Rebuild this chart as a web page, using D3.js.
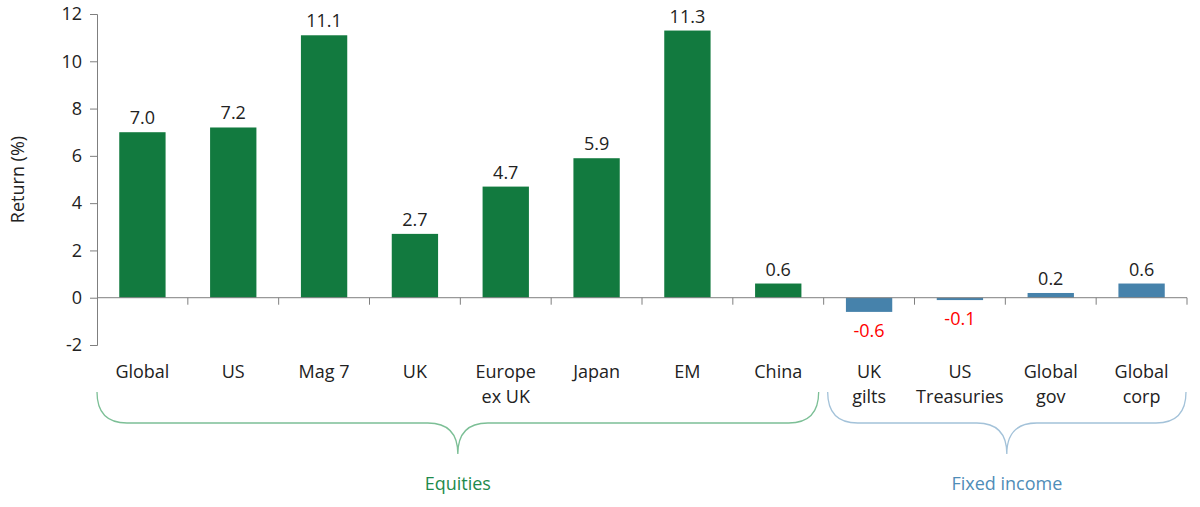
<!DOCTYPE html>
<html>
<head>
<meta charset="utf-8">
<script src="https://cdn.jsdelivr.net/npm/d3@7"></script>
<style>
  body { margin: 0; background: #fff; }
  text { font-family: "Open Sans", sans-serif; }
</style>
</head>
<body>
<div id="chart"></div>
<script>
'use strict'

// the data
const categories = ['Global', 'US', 'Mag 7', 'UK', 'Europe ex UK', 'Japan', 'EM', 'China',
  'UK gilts', 'US Treasuries', 'Global gov', 'Global corp']
const labelLines = [['Global'], ['US'], ['Mag 7'], ['UK'], ['Europe', 'ex UK'], ['Japan'], ['EM'], ['China'],
  ['UK', 'gilts'], ['US', 'Treasuries'], ['Global', 'gov'], ['Global', 'corp']]
const returns = [7.0, 7.2, 11.1, 2.7, 4.7, 5.9, 11.3, 0.6, -0.6, -0.1, 0.2, 0.6]
const groupOf = ['eq', 'eq', 'eq', 'eq', 'eq', 'eq', 'eq', 'eq', 'fi', 'fi', 'fi', 'fi']
const groups = [
  { key: 'eq', name: 'Equities', first: 'Global', last: 'China' },
  { key: 'fi', name: 'Fixed income', first: 'UK gilts', last: 'Global corp' }
]
const yTicks = [-2, 0, 2, 4, 6, 8, 10, 12]

const W = 1200, H = 507
const margin = { top: 14, right: 13, bottom: 162, left: 97 }
const width = W - margin.left - margin.right
const height = H - margin.top - margin.bottom
const fs = 18

const barColor = { eq: '#127a3f', fi: '#4682ab' }
const braceColor = { eq: '#7cbf96', fi: '#a3c2d9' }
const groupText = { eq: '#1e8a4c', fi: '#4f8db8' }

// hyphen rather than unicode minus, like the original
const hyph = s => s.replace('\u2212', '-')

const x = d3.scaleBand().domain(categories).range([0, width]).paddingInner(0.49).paddingOuter(0.245)
const y = d3.scaleLinear().domain([-2, 12]).range([height, 0])

const svg = d3.select('#chart').append('svg')
  .attr('width', W).attr('height', H)
const g = svg.append('g')
  .attr('transform', 'translate(' + margin.left + ',' + margin.top + ')')

// y axis
const yAxis = g.append('g')
  .call(d3.axisLeft(y).tickValues(yTicks).tickSize(7).tickPadding(8).tickFormat(d => hyph(d3.format('d')(d))))
yAxis.selectAll('path, line').attr('stroke', '#7f7f7f')
yAxis.selectAll('text').attr('font-size', fs).attr('fill', '#222').attr('font-family', 'Open Sans')

svg.append('text')
  .attr('transform', 'translate(24,' + (margin.top + y(5)) + ') rotate(-90)')
  .attr('text-anchor', 'middle')
  .attr('font-size', fs).attr('fill', '#222')
  .text('Return (%)')

// bars
g.selectAll('rect.bar').data(categories).enter().append('rect')
  .attr('x', d => x(d))
  .attr('width', x.bandwidth())
  .attr('y', (d, i) => y(Math.max(0, returns[i])))
  .attr('height', (d, i) => Math.abs(y(returns[i]) - y(0)))
  .attr('fill', (d, i) => barColor[groupOf[i]])

// value labels
g.selectAll('text.val').data(categories).enter().append('text')
  .attr('x', d => x(d) + x.bandwidth() / 2)
  .attr('y', (d, i) => returns[i] >= 0 ? y(returns[i]) - 8 : y(returns[i]) + 25)
  .attr('text-anchor', 'middle')
  .attr('font-size', fs)
  .attr('fill', (d, i) => returns[i] < 0 ? '#ff0000' : '#222')
  .text((d, i) => hyph(d3.format('.1f')(returns[i])))

// x axis at zero, ticks between categories
const step = x.step()
const x0 = g.append('g').attr('transform', 'translate(0,' + y(0) + ')')
x0.append('line').attr('x1', 0).attr('x2', width).attr('stroke', '#7f7f7f')
x0.selectAll('line.tick').data(d3.range(1, categories.length + 1)).enter().append('line')
  .attr('x1', i => i * step).attr('x2', i => i * step)
  .attr('y1', 0).attr('y2', 7).attr('stroke', '#7f7f7f')

// category labels
const labY = y(-2) + 33
labelLines.forEach((lines, i) => {
  const t = g.append('text')
    .attr('x', x(categories[i]) + x.bandwidth() / 2)
    .attr('y', labY)
    .attr('text-anchor', 'middle')
    .attr('font-size', fs).attr('fill', '#222')
  lines.forEach((l, j) => {
    t.append('tspan').attr('x', x(categories[i]) + x.bandwidth() / 2)
      .attr('dy', j === 0 ? 0 : 25).text(l)
  })
})

// curly braces under groups
function brace(x1, x2, top) {
  const r = 30, mid = (x1 + x2) / 2, base = top + 31, tip = top + 62
  return 'M' + x1 + ',' + top +
    ' Q' + x1 + ',' + base + ' ' + (x1 + r) + ',' + base +
    ' L' + (mid - r) + ',' + base +
    ' Q' + mid + ',' + base + ' ' + mid + ',' + tip +
    ' Q' + mid + ',' + base + ' ' + (mid + r) + ',' + base +
    ' L' + (x2 - r) + ',' + base +
    ' Q' + x2 + ',' + base + ' ' + x2 + ',' + top
}
const braceTop = y(-2) + 47
groups.forEach((gr, k) => {
  const left = x(gr.first) - x.step() * x.paddingOuter() + (k === 0 ? 0 : 4)
  const right = x(gr.last) + x.bandwidth() + x.step() * x.paddingOuter() - (k === 0 ? 5 : 1)
  g.append('path')
    .attr('d', brace(left, right, braceTop))
    .attr('fill', 'none')
    .attr('stroke', braceColor[gr.key])
    .attr('stroke-width', 1.3)
  g.append('text')
    .attr('x', (left + right) / 2)
    .attr('y', braceTop + 98)
    .attr('text-anchor', 'middle')
    .attr('font-size', fs)
    .attr('fill', groupText[gr.key])
    .text(gr.name)
})
</script>
</body>
</html>
